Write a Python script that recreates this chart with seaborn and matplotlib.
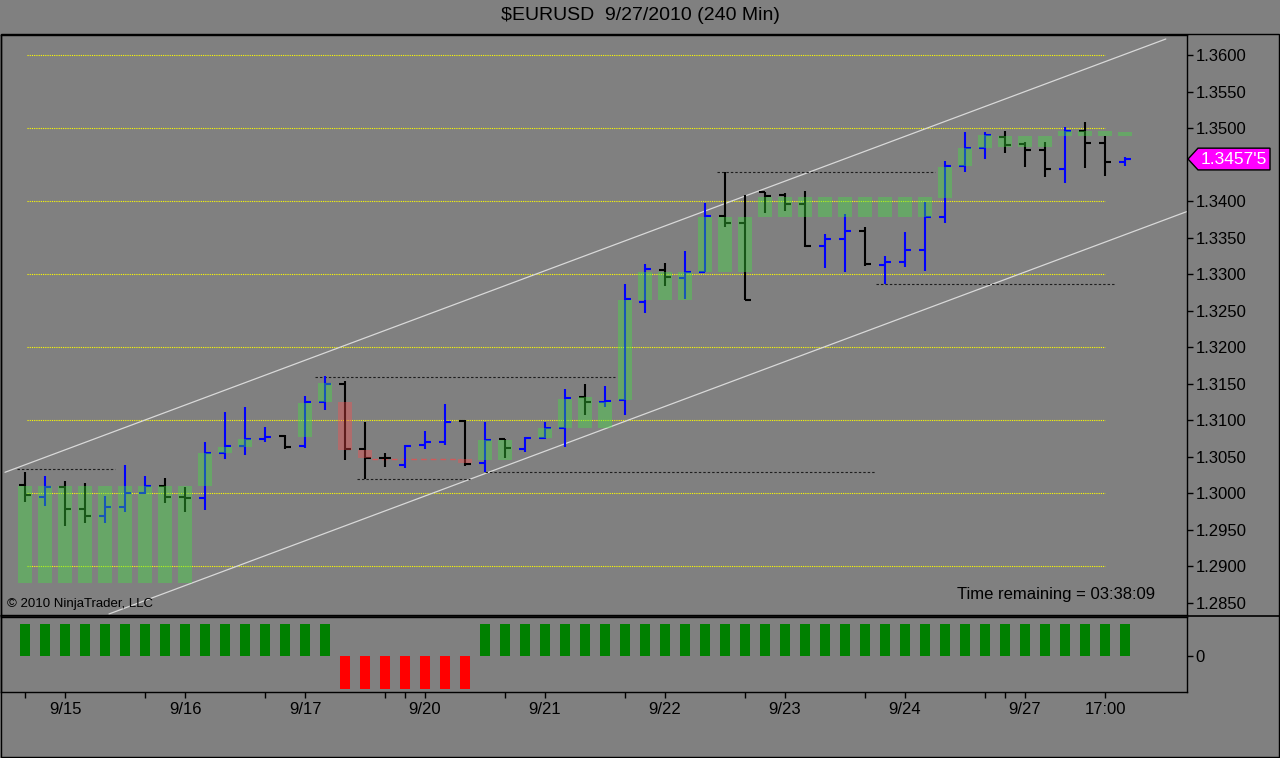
import numpy as np
import pandas as pd
import matplotlib
matplotlib.use("Agg")
import matplotlib.pyplot as plt
import matplotlib.transforms as mtransforms
from matplotlib.lines import Line2D
from matplotlib.patches import Polygon, Rectangle
import seaborn as sns

nan = float("nan")

# ---------------- data ----------------
opens = [1.30110, 1.29949, 1.30086, 1.29781, 1.29689, 1.29812, 1.30004, 1.30100, 1.29949, 1.29927,
         1.30552, 1.30644, 1.30740, 1.30785, 1.30644, 1.31251, 1.31493, 1.30603, 1.30484, 1.30384,
         1.30658, 1.30703, 1.30986, 1.30415, 1.30736, 1.30599, 1.30758, 1.30886, 1.31311, 1.31242,
         1.31274, 1.32621, 1.33055, 1.32941, 1.33032, 1.33799, 1.33695, 1.34127, 1.34082, 1.33955,
         1.33384, 1.33479, 1.33589, 1.33123, 1.33168, 1.33329, 1.33777, 1.34479, 1.34730, 1.34873,
         1.34777, 1.34699, 1.34438, 1.34963, 1.34799, 1.34538]
highs = [1.30284, 1.30237, 1.30168, 1.30133, 1.29959, 1.30384, 1.30233, 1.30201, 1.30078, 1.30703,
         1.31105, 1.31182, 1.30908, 1.30795, 1.31333, 1.31603, 1.31538, 1.30977, 1.30544, 1.30658,
         1.30849, 1.31219, 1.31000, 1.30977, 1.30740, 1.30763, 1.30977, 1.31425, 1.31493, 1.31466,
         1.32863, 1.33137, 1.33147, 1.33319, 1.33977, 1.34401, 1.34082, 1.34127, 1.34105, 1.34141,
         1.33548, 1.33822, 1.33648, 1.33247, 1.33579, 1.33990, 1.34552, 1.34949, 1.34949, 1.34959,
         1.34804, 1.34804, 1.35010, 1.35078, 1.34890, 1.34607]
lows = [1.29881, 1.29826, 1.29552, 1.29585, 1.29585, 1.29736, 1.29986, 1.29859, 1.29744, 1.29767,
        1.30466, 1.30521, 1.30695, 1.30603, 1.30612, 1.31137, 1.30452, 1.30192, 1.30352, 1.30338,
        1.30599, 1.30658, 1.30370, 1.30292, 1.30475, 1.30566, 1.30736, 1.30626, 1.31068, 1.31182,
        1.31068, 1.32470, 1.32836, 1.32653, 1.33032, 1.33648, 1.32644, 1.33832, 1.33867, 1.33366,
        1.33078, 1.33032, 1.33110, 1.32863, 1.33100, 1.33045, 1.33695, 1.34401, 1.34571, 1.34662,
        1.34462, 1.34325, 1.34251, 1.34448, 1.34347, 1.34479]
closes = [1.29973, 1.30086, 1.29781, 1.29689, 1.29812, 1.30004, 1.30100, 1.29949, 1.29927, 1.30552,
          1.30644, 1.30740, 1.30763, 1.30634, 1.31251, 1.31493, 1.30603, 1.30484, 1.30475, 1.30644,
          1.30703, 1.30977, 1.30397, 1.30726, 1.30612, 1.30758, 1.30886, 1.31297, 1.31242, 1.31264,
          1.32653, 1.33064, 1.32955, 1.33032, 1.33799, 1.33695, 1.32644, 1.34073, 1.33955, 1.33384,
          1.33479, 1.33589, 1.33137, 1.33168, 1.33329, 1.33777, 1.34479, 1.34730, 1.34904, 1.34767,
          1.34699, 1.34438, 1.34963, 1.34799, 1.34530, 1.34575]

# indicator boxes (top / bottom price, NaN = no box)
box_top = [1.30100, 1.30100, 1.30100, 1.30100, 1.30100, 1.30100, 1.30100, 1.30100, 1.30100, 1.30544,
           1.30634, 1.30736, nan, nan, 1.31229, 1.31503, 1.31242, 1.30589, nan, nan,
           nan, nan, 1.30462, 1.30726, 1.30726, nan, 1.30886, 1.31284, 1.31319, 1.31251,
           1.32644, 1.33032, 1.33032, 1.33032, 1.33785, 1.33785, 1.33785, 1.34059, 1.34059, 1.34059,
           1.34059, 1.34059, 1.34059, 1.34059, 1.34059, 1.34059, 1.34470, 1.34730, 1.34904, 1.34890,
           1.34890, 1.34890, 1.34963, 1.34963, 1.34963, 1.34949]
box_bottom = [1.28770, 1.28770, 1.28770, 1.28770, 1.28770, 1.28770, 1.28770, 1.28770, 1.28770, 1.30100,
              1.30544, 1.30634, nan, nan, 1.30767, 1.31251, 1.30589, 1.30475, nan, nan,
              nan, nan, 1.30407, 1.30452, 1.30452, nan, 1.30753, 1.30886, 1.30886, 1.30886,
              1.31274, 1.32644, 1.32644, 1.32644, 1.33032, 1.33032, 1.33032, 1.33785, 1.33785, 1.33785,
              1.33785, 1.33785, 1.33785, 1.33785, 1.33785, 1.33785, 1.34037, 1.34479, 1.34730, 1.34736,
              1.34736, 1.34736, 1.34890, 1.34890, 1.34890, 1.34890]

# lower panel signal (+1 long / -1 short)
signal = [1, 1, 1, 1, 1, 1, 1, 1, 1, 1, 1, 1, 1, 1, 1, 1,
          -1, -1, -1, -1, -1, -1, -1,
          1, 1, 1, 1, 1, 1, 1, 1, 1, 1, 1, 1, 1, 1, 1, 1, 1,
          1, 1, 1, 1, 1, 1, 1, 1, 1, 1, 1, 1, 1, 1, 1, 1]

# drawn objects
grid_levels = [1.29, 1.30, 1.31, 1.32, 1.33, 1.34, 1.35, 1.36]
grid_span = [0.1, 54.0]
chan_upper_x = [-1.0, 57.04]
chan_upper_y = [1.30284, 1.36219]
chan_lower_x = [4.2, 58.1]
chan_lower_y = [1.28343, 1.33856]
swing_price = [1.30325, 1.31585, 1.30192, 1.30284, 1.34393, 1.32859]
swing_start = [-0.4, 14.5, 16.6, 23.0, 34.6, 42.55]
swing_end = [4.5, 29.5, 22.25, 42.5, 45.5, 54.5]
stop_x = [17.35, 21.75]
stop_y = [1.30470, 1.30470]

# axes ticks (1.3450 is hidden behind the last-price tag in the reference)
ytick_values = [1.2850, 1.2900, 1.2950, 1.3000, 1.3050, 1.3100, 1.3150, 1.3200,
                1.3250, 1.3300, 1.3350, 1.3400, 1.3500, 1.3550, 1.3600]
xtick_pos = [2, 8, 14, 20, 26, 32, 38, 44, 50, 54]
xtick_labels = ["9/15", "9/16", "9/17", "9/20", "9/21", "9/22", "9/23", "9/24", "9/27", "17:00"]
xtick_minor = [0, 6, 12, 18, 19, 24, 30, 36, 42, 48, 49]

title = "$EURUSD  9/27/2010 (240 Min)"
copyright_txt = "\u00a9 2010 NinjaTrader, LLC"
time_txt = "Time remaining = 03:38:09"

# ---------------- styling ----------------
GRAY = "#808080"
sns.set_theme(style="ticks", rc={
    "axes.facecolor": GRAY, "figure.facecolor": GRAY, "savefig.facecolor": GRAY,
    "axes.edgecolor": "black", "axes.linewidth": 1.0,
    "xtick.color": "black", "ytick.color": "black", "text.color": "black",
    "axes.labelcolor": "black",
})
plt.rcParams["font.family"] = ["Liberation Sans", "DejaVu Sans"]

W, H = 1280, 758
fig = plt.figure(figsize=(W / 100, H / 100), dpi=100, facecolor=GRAY)


def fx(px):
    return px / W


def fy(py):
    return 1 - py / H


ax1 = fig.add_axes([fx(1), fy(615), fx(1187) - fx(1), fy(35) - fy(615)])
ax2 = fig.add_axes([fx(1), fy(692), fx(1187) - fx(1), fy(617) - fy(692)])

idx = np.arange(len(opens))
o = np.array(opens); h = np.array(highs); l = np.array(lows); c = np.array(closes)
bar_cols = np.where(c >= o, "#0000FF", "#000000")

# yellow dotted grid
ax1.hlines(grid_levels, grid_span[0], grid_span[1], colors="#FFFF00",
           linestyles=(0, (1, 1)), lw=0.8, zorder=1)
# channel lines
ax1.plot(chan_upper_x, chan_upper_y, color="#d9d9d9", lw=0.9, zorder=1)
ax1.plot(chan_lower_x, chan_lower_y, color="#d9d9d9", lw=0.9, zorder=1)
# swing lines
ax1.hlines(swing_price, swing_start, swing_end, colors="#1e1e1e",
           linestyles=(0, (2.2, 1.8)), lw=0.8, zorder=1)
ax1.plot(stop_x, stop_y, color="#d05a5a", lw=1.0, ls=(0, (4, 3)), zorder=1)

# OHLC bars
ax1.vlines(idx, l, h, colors=bar_cols, lw=1.5, zorder=2)
ax1.hlines(o, idx - 0.28, idx, colors=bar_cols, lw=1.5, zorder=2)
ax1.hlines(c, idx, idx + 0.28, colors=bar_cols, lw=1.5, zorder=2)

# indicator boxes on top
bt = np.array(box_top); bb = np.array(box_bottom); sg = np.array(signal)
m = ~np.isnan(bt)
box_cols = np.where(sg > 0, "#40e640", "#ff4d4d")
ax1.bar(idx[m], bt[m] - bb[m], bottom=bb[m], width=0.67, color=box_cols[m],
        alpha=0.38, lw=0, zorder=3)

ax1.set_xlim(-1.2, 58.1)
ax1.set_ylim(1.28329, 1.36274)
ax1.yaxis.tick_right()
ax1.set_yticks(ytick_values)
ax1.set_yticklabels([f"{v:.4f}" for v in ytick_values])
ax1.tick_params(axis="y", which="both", direction="out", length=4, width=1, pad=2,
                labelsize=12, right=True, left=False, labelright=True, labelleft=False)
ax1.tick_params(axis="x", bottom=False, labelbottom=False, top=False)
for s in ax1.spines.values():
    s.set_visible(True); s.set_color("black"); s.set_linewidth(1)

# lower panel with seaborn
df = pd.DataFrame({"bar": idx, "signal": signal,
                   "state": ["long" if v > 0 else "short" for v in signal]})
sns.barplot(data=df, x="bar", y="signal", hue="state", hue_order=["long", "short"],
            palette={"long": "#008000", "short": "#FF0000"}, native_scale=True,
            dodge=False, width=0.5, linewidth=0, errorbar=None, legend=False,
            saturation=1, ax=ax2)
ax2.set_xlim(-1.2, 58.1)
ax2.set_ylim(-1.091, 1.212)
ax2.set_xlabel(""); ax2.set_ylabel("")
ax2.yaxis.tick_right()
ax2.set_yticks([0]); ax2.set_yticklabels(["0"])
ax2.set_xticks(xtick_pos); ax2.set_xticklabels(xtick_labels)
ax2.set_xticks(xtick_minor, minor=True)
ax2.tick_params(axis="y", direction="out", length=4, width=1, pad=2, labelsize=12,
                right=True, left=False, labelright=True, labelleft=False)
ax2.tick_params(axis="x", which="both", direction="out", length=4, width=1, pad=3,
                labelsize=12, bottom=True, top=False)
for s in ax2.spines.values():
    s.set_visible(True); s.set_color("black"); s.set_linewidth(1)

# outer frame and separators
fig.add_artist(Rectangle((fx(1), fy(757)), fx(1279) - fx(1), fy(34) - fy(757),
                         transform=fig.transFigure, fill=False, ec="black", lw=1))
fig.add_artist(Line2D([fx(1), fx(1279)], [fy(616), fy(616)], transform=fig.transFigure,
                      color="black", lw=1.2))

# texts
fig.text(0.5, fy(16), title, ha="center", va="center", fontsize=14)
fig.text(fx(7), fy(604), copyright_txt, ha="left", va="center", fontsize=9.5)
fig.text(fx(1155), fy(594), time_txt, ha="right", va="center", fontsize=12)

# last price tag
last = closes[-1]
tr = mtransforms.blended_transform_factory(fig.transFigure, ax1.transData)
hh = 0.00149
tag = Polygon([(fx(1188), last), (fx(1198), last + hh), (fx(1270), last + hh),
               (fx(1270), last - hh), (fx(1198), last - hh)], closed=True,
              transform=tr, fc="#FF00FF", ec="black", lw=1, clip_on=False, zorder=10)
fig.add_artist(tag)
lbl = f"{last:.5f}"
fig.text(fx(1234), last, lbl[:-1] + "'" + lbl[-1], transform=tr, ha="center", va="center",
         color="white", fontsize=12.5, zorder=11)

fig.savefig("out.png", dpi=100, facecolor=GRAY)
